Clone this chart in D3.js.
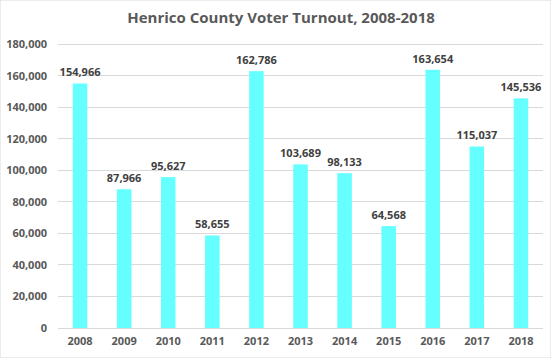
<!DOCTYPE html>
<html><head><meta charset="utf-8">
<script src="https://cdn.jsdelivr.net/npm/d3@7"></script>
<style>body{margin:0;background:#fff;}svg{display:block;}</style>
</head><body>
<svg id="c" width="551" height="358"></svg>
<script>
const years = ["2008","2009","2010","2011","2012","2013","2014","2015","2016","2017","2018"];
const turnout = [154966,87966,95627,58655,162786,103689,98133,64568,163654,115037,145536];
const yTicks = [0,20000,40000,60000,80000,100000,120000,140000,160000,180000];
const title = "Henrico County Voter Turnout, 2008-2018";

const svg = d3.select("#c");
const font = "Open Sans, Liberation Sans, sans-serif";
const x = d3.scaleBand().domain(years).range([58, 543]).paddingInner(0.67).paddingOuter(0.335);
const y = d3.scaleLinear().domain([0,180000]).range([328, 44]);

svg.append("rect").attr("width",551).attr("height",358).attr("fill","#fff").attr("stroke","#d9d9d9");

svg.append("g").selectAll("line").data(yTicks).join("line")
  .attr("x1",58).attr("x2",543).attr("y1",d=>y(d)).attr("y2",d=>y(d))
  .attr("stroke","#d9d9d9").attr("stroke-width",1).attr("shape-rendering","crispEdges");

const yAxis = d3.axisLeft(y).tickValues(yTicks).tickSize(0).tickPadding(0).tickFormat(d3.format(","));
const ya = svg.append("g").attr("transform","translate(47,0)").call(yAxis);
ya.select(".domain").remove();
ya.selectAll("text").attr("font-family",font).attr("font-size",11).attr("font-weight","bold").attr("fill","#595959");

const xAxis = d3.axisBottom(x).tickSize(0).tickPadding(0);
const xa = svg.append("g").attr("transform","translate(0,337)").call(xAxis);
xa.select(".domain").remove();
xa.selectAll("text").attr("font-family",font).attr("font-size",11).attr("font-weight","bold").attr("fill","#595959");

svg.append("g").selectAll("rect").data(turnout).join("rect")
  .attr("x",(d,i)=>x(years[i])).attr("width",x.bandwidth())
  .attr("y",d=>y(d)).attr("height",d=>y(0)-y(d)).attr("fill","#66FFFF");

svg.append("g").selectAll("text").data(turnout).join("text")
  .attr("x",(d,i)=>x(years[i])+x.bandwidth()/2).attr("y",d=>y(d)-7)
  .attr("text-anchor","middle").attr("font-family",font).attr("font-size",11).attr("font-weight","bold")
  .attr("fill","#404040").text(d3.format(","));

svg.append("text").attr("x",281).attr("y",23).attr("text-anchor","middle")
  .attr("font-family",font).attr("font-size",15).attr("font-weight","bold").attr("fill","#595959").text(title);
</script>
</body></html>
